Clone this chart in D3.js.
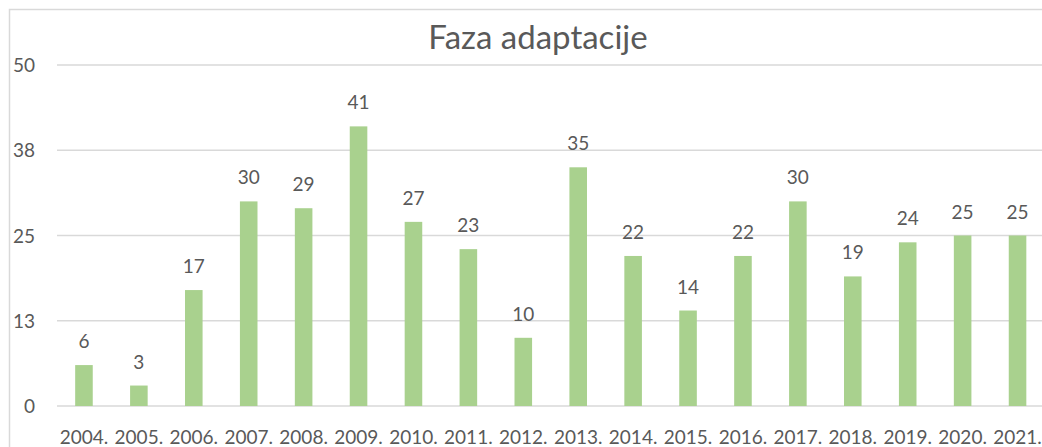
<!DOCTYPE html>
<style>
  body { margin: 0; background: white; }
  svg { display: block; font-family: Lato, "Open Sans", sans-serif; }
  .grid line { stroke: #d9d9d9; stroke-width: 1.5; }
  .lbl { fill: #595959; font-size: 19px; }
  .title { fill: #595959; font-size: 33px; }
</style>
<body>
</body>
<script src="https://cdn.jsdelivr.net/npm/d3@7/dist/d3.min.js"></script>
<script>
  const years = ['2004.', '2005.', '2006.', '2007.', '2008.', '2009.', '2010.', '2011.', '2012.',
                 '2013.', '2014.', '2015.', '2016.', '2017.', '2018.', '2019.', '2020.', '2021.'];
  const values = [6, 3, 17, 30, 29, 41, 27, 23, 10, 35, 22, 14, 22, 30, 19, 24, 25, 25];
  const yTicks = [0, 12.5, 25, 37.5, 50];
  const yTickLabels = ['0', '13', '25', '38', '50'];

  const w = 1042, h = 447;
  const svg = d3.select('body').append('svg')
    .attr('width', w)
    .attr('height', h);

  // chart area border, runs past the window on the right and bottom
  svg.append('rect')
    .attr('x', 9.5).attr('y', 9.5)
    .attr('width', 1100).attr('height', 500)
    .attr('fill', 'white')
    .attr('stroke', '#d9d9d9')
    .attr('stroke-width', 1.5);

  const x = d3.scaleBand().domain(years).range([56.5, 1045]).paddingInner(0.68).paddingOuter(0.34);
  const y = d3.scaleLinear().domain([0, 50]).range([406, 65]);

  const grid = svg.append('g').attr('class', 'grid');
  grid.selectAll('line')
    .data(yTicks)
    .join('line')
    .attr('x1', 57).attr('x2', w)
    .attr('y1', d => y(d)).attr('y2', d => y(d));

  svg.append('g')
    .selectAll('text')
    .data(yTicks)
    .join('text')
    .attr('class', 'lbl')
    .attr('x', 35)
    .attr('y', d => y(d) + 7)
    .attr('text-anchor', 'end')
    .text((d, i) => yTickLabels[i]);

  svg.append('g')
    .selectAll('rect')
    .data(values)
    .join('rect')
    .attr('x', (d, i) => x(years[i]))
    .attr('width', x.bandwidth())
    .attr('y', d => y(d))
    .attr('height', d => y(0) - y(d))
    .attr('fill', '#a9d18e');

  svg.append('g')
    .selectAll('text')
    .data(values)
    .join('text')
    .attr('class', 'lbl')
    .attr('x', (d, i) => x(years[i]) + x.bandwidth() / 2)
    .attr('y', d => y(d) - 17)
    .attr('text-anchor', 'middle')
    .text(d => d);

  svg.append('g')
    .selectAll('text')
    .data(years)
    .join('text')
    .attr('class', 'lbl')
    .attr('x', d => x(d) + x.bandwidth() / 2)
    .attr('y', 444)
    .attr('text-anchor', 'middle')
    .text(d => d);

  svg.append('text')
    .attr('class', 'title')
    .attr('x', 538)
    .attr('y', 49)
    .attr('text-anchor', 'middle')
    .text('Faza adaptacije');
</script>
